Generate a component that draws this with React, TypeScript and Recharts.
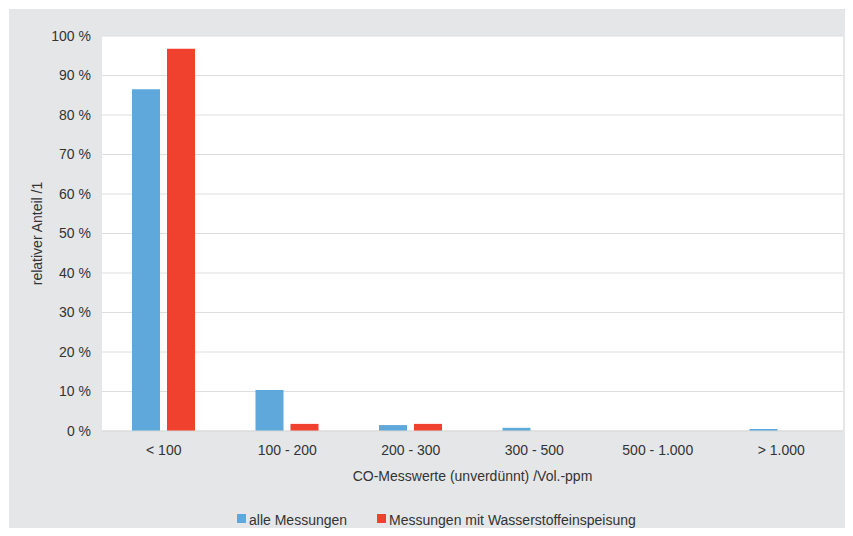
import { Bar, BarChart, CartesianGrid, Legend, XAxis, YAxis } from 'recharts';

const CATEGORIES = ['< 100', '100 - 200', '200 - 300', '300 - 500', '500 - 1.000', '> 1.000'];
const ALLE_MESSUNGEN = [86.5, 10.4, 1.5, 0.8, 0, 0.5];
const MIT_WASSERSTOFF = [96.8, 1.8, 1.8, 0, 0, 0];
const Y_TICKS = [0, 10, 20, 30, 40, 50, 60, 70, 80, 90, 100];

const SERIES = [
  { key: 'alle', name: 'alle Messungen', color: '#5fa8dc' },
  { key: 'wasserstoff', name: 'Messungen mit Wasserstoffeinspeisung', color: '#ef412d' },
];

const FONT = '"Liberation Sans", Arial, sans-serif';
const TEXT_COLOR = '#333333';

const data = CATEGORIES.map((category, i) => ({
  category,
  alle: ALLE_MESSUNGEN[i],
  wasserstoff: MIT_WASSERSTOFF[i],
}));

function LegendContent() {
  return (
    <div style={{ display: 'flex', alignItems: 'center', height: 20, fontFamily: FONT, fontSize: 14, color: TEXT_COLOR }}>
      {SERIES.map((s, i) => (
        <div key={s.key} style={{ display: 'flex', alignItems: 'center', marginLeft: i === 0 ? 0 : 30 }}>
          <span style={{ width: 9, height: 9, background: s.color, marginRight: 3, marginTop: -3 }} />
          <span>{s.name}</span>
        </div>
      ))}
    </div>
  );
}

export default function App() {
  return (
    <div style={{ position: 'relative', width: 853, height: 536, margin: -8, background: '#ffffff' }}>
      <div style={{ position: 'absolute', left: 9, top: 9, right: 0, bottom: 0, background: '#e5e6e8' }} />
      <div style={{ position: 'absolute', left: 0, top: 0 }}>
        <BarChart
          width={853}
          height={536}
          data={data}
          margin={{ top: 36, right: 10, left: 0, bottom: 30 }}
          barSize={28}
          barGap={7}
          style={{ fontFamily: FONT }}
        >
          <CartesianGrid vertical={false} stroke="#dedede" fill="#ffffff" />
          <YAxis
            type="number"
            domain={[0, 100]}
            ticks={Y_TICKS}
            interval={0}
            width={102}
            axisLine={false}
            tickLine={false}
            tickMargin={5}
            tickFormatter={(v: number) => `${v} %`}
            tick={{ fill: TEXT_COLOR, fontSize: 14 }}
            label={{
              value: 'relativer Anteil /1',
              angle: -90,
              position: 'insideLeft',
              offset: 37,
              style: { fill: TEXT_COLOR, fontSize: 14, textAnchor: 'middle' },
            }}
          />
          <XAxis
            dataKey="category"
            height={55}
            axisLine={{ stroke: '#d9d9d9' }}
            tickLine={false}
            tickMargin={8}
            interval={0}
            tick={{ fill: TEXT_COLOR, fontSize: 14 }}
            label={{
              value: 'CO-Messwerte (unverdünnt) /Vol.-ppm',
              position: 'insideTop',
              offset: 40,
              style: { fill: TEXT_COLOR, fontSize: 14 },
            }}
          />
          <Legend
            verticalAlign="bottom"
            content={<LegendContent />}
            wrapperStyle={{ top: 510, left: 237, width: 'auto' }}
          />
          {SERIES.map((s) => (
            <Bar key={s.key} dataKey={s.key} name={s.name} fill={s.color} isAnimationActive={false} />
          ))}
        </BarChart>
      </div>
    </div>
  );
}
